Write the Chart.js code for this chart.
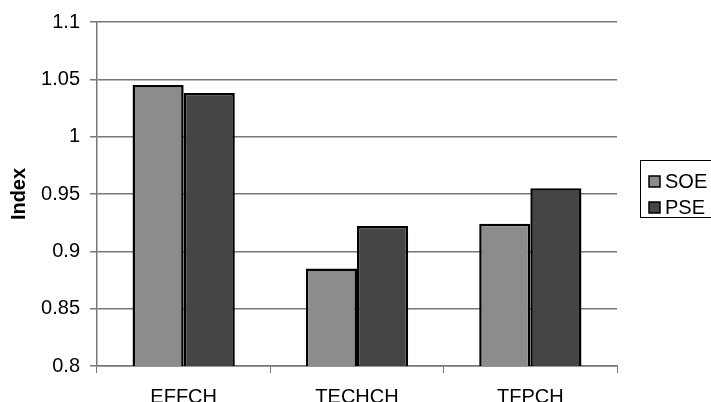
<!DOCTYPE html>
<html lang="en">

<head>
    <meta charset="UTF-8">
    <title>Index chart</title>
    <style>
        html, body {
            margin: 0;
            padding: 0;
            background: #fff;
        }
        .wrapper {
            position: relative;
            width: 711px;
            height: 402px;
        }
    </style>
    <script src="https://cdn.jsdelivr.net/npm/chart.js"></script>
</head>

<body>
    <div class="wrapper">
        <canvas id="chart" width="711" height="402"></canvas>
    </div>
<script>
    const categories = ["EFFCH", "TECHCH", "TFPCH"];
    const soeValues = [1.045, 0.885, 0.924];
    const pseValues = [1.038, 0.922, 0.955];
    const yTicks = [0.8, 0.85, 0.9, 0.95, 1, 1.05, 1.1];

    const font = "'Liberation Sans', Arial, sans-serif";

    // legend box on the right, like the old excel chart
    const boxLegend = {
        id: "boxLegend",
        afterDraw(chart) {
            const c = chart.ctx;
            c.save();
            c.strokeStyle = "#000";
            c.lineWidth = 1;
            c.strokeRect(640.5, 160.5, 80, 57);
            c.font = "20px " + font;
            c.textBaseline = "middle";
            chart.data.datasets.forEach((ds, i) => {
                const y = 181.5 + i * 26;
                c.fillStyle = ds.backgroundColor;
                c.fillRect(649, y - 5.5, 11, 11);
                c.lineWidth = 1.5;
                c.strokeRect(649, y - 5.5, 11, 11);
                c.fillStyle = "#000";
                c.fillText(ds.label, 665, y + 1);
            });
            c.restore();
        }
    };

    const ctx = document.getElementById("chart");

    const chart = new Chart(ctx, {
        type: "bar",
        data: {
            labels: categories,
            datasets: [{
                label: "SOE",
                data: soeValues,
                backgroundColor: "#8c8c8c",
                borderColor: "#000",
                borderWidth: 2.5,
                borderSkipped: false
            }, {
                label: "PSE",
                data: pseValues,
                backgroundColor: "#454545",
                borderColor: "#000",
                borderWidth: 2.5,
                borderSkipped: false
            }]
        },
        options: {
            responsive: false,
            animation: false,
            devicePixelRatio: 1,
            layout: { padding: { left: 0, right: 94, top: 22, bottom: 0 } },
            plugins: {
                legend: { display: false },
                tooltip: { enabled: false }
            },
            datasets: {
                bar: { categoryPercentage: 0.59, barPercentage: 1 }
            },
            scales: {
                x: {
                    grid: {
                        offset: true,
                        drawOnChartArea: false,
                        tickLength: 7,
                        color: "#777"
                    },
                    border: { color: "#777", width: 1.5 },
                    ticks: {
                        color: "#000",
                        font: { family: font, size: 20 },
                        padding: 12
                    },
                    afterFit(scale) { scale.height = 36; }
                },
                y: {
                    min: 0.8,
                    max: 1.1,
                    afterBuildTicks(scale) {
                        scale.ticks = yTicks.map(v => ({ value: v }));
                    },
                    grid: {
                        color: "#777",
                        lineWidth: 1.5,
                        tickLength: 7
                    },
                    border: { color: "#777", width: 1.5 },
                    ticks: {
                        color: "#000",
                        font: { family: font, size: 20 },
                        padding: 10,
                        callback: v => String(+v.toFixed(2))
                    },
                    title: {
                        display: true,
                        text: "Index",
                        color: "#000",
                        font: { family: font, size: 20, weight: "bold" },
                        padding: { top: 7, bottom: 0 }
                    },
                    afterFit(scale) { scale.width = 97; }
                }
            }
        },
        plugins: [boxLegend]
    });
</script>
</body>

</html>
